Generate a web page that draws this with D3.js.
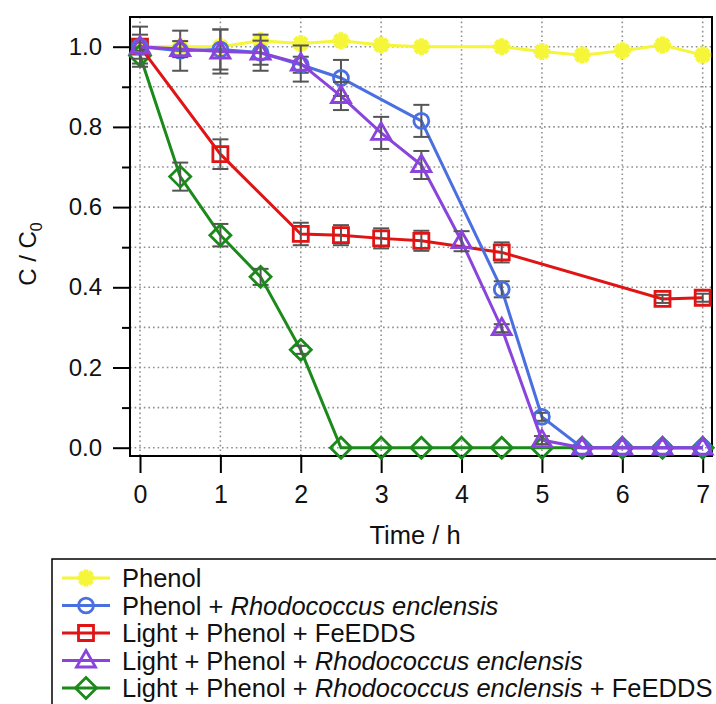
<!DOCTYPE html>
<html>
<head>
<meta charset="utf-8">
<script src="https://cdn.jsdelivr.net/npm/d3@7"></script>
<style>
  body { margin: 0; background: #fff; }
  svg { font-family: "Liberation Sans", Arial, sans-serif; }
</style>
</head>
<body>
<div id="chart"></div>
<script>
// data
var phenolT = [0, 0.5, 1, 1.5, 2, 2.5, 3, 3.5, 4.5, 5, 5.5, 6, 6.5, 7];
var phenolC = [1.0, 1.0, 1.0, 1.015, 1.008, 1.015, 1.004, 1.0, 1.0, 0.988, 0.979, 0.99, 1.004, 0.979];
var phenolE = [0, 0, 0, 0, 0, 0, 0, 0, 0, 0, 0, 0, 0, 0];

var bioT = [0, 0.5, 1, 1.5, 2, 2.5, 3.5, 4.5, 5, 5.5, 6, 6.5, 7];
var bioC = [1.0, 0.99, 0.993, 0.985, 0.955, 0.922, 0.815, 0.395, 0.077, 0, 0, 0, 0];
var bioE = [0.05, 0.05, 0.05, 0.045, 0.02, 0.045, 0.04, 0.02, 0.01, 0, 0, 0, 0];

var fenT = [0, 1, 2, 2.5, 3, 3.5, 4.5, 6.5, 7];
var fenC = [1.0, 0.732, 0.533, 0.53, 0.522, 0.516, 0.487, 0.371, 0.374];
var fenE = [0.01, 0.037, 0.028, 0.025, 0.025, 0.025, 0.025, 0.01, 0.01];

var lightBioT = [0, 0.5, 1, 1.5, 2, 2.5, 3, 3.5, 4, 4.5, 5, 5.5, 6, 6.5, 7];
var lightBioC = [1.0, 0.994, 0.988, 0.985, 0.958, 0.877, 0.785, 0.705, 0.515, 0.298, 0.019, 0, 0, 0, 0];
var lightBioE = [0.03, 0.02, 0.055, 0.03, 0.045, 0.035, 0.04, 0.035, 0.025, 0.01, 0.01, 0, 0, 0, 0];

var allT = [0, 0.5, 1, 1.5, 2, 2.5, 3, 3.5, 4, 4.5, 5, 5.5, 6, 6.5, 7];
var allC = [0.978, 0.676, 0.53, 0.426, 0.244, 0, 0, 0, 0, 0, 0, 0, 0, 0, 0];
var allE = [0.02, 0.035, 0.028, 0.02, 0.01, 0, 0, 0, 0, 0, 0, 0, 0, 0, 0];

var xTicks = [0, 1, 2, 3, 4, 5, 6, 7];
var yMajor = [0, 0.2, 0.4, 0.6, 0.8, 1.0];
var yGrid = [0, 0.1, 0.2, 0.3, 0.4, 0.5, 0.6, 0.7, 0.8, 0.9, 1.0];

var series = [
  { name: ["Phenol"], t: phenolT, c: phenolC, e: phenolE, color: "#f5f53a", shape: "star" },
  { name: ["Light + Phenol + ", "Rhodococcus enclensis", " + FeEDDS"], t: allT, c: allC, e: allE, color: "#1b8a1b", shape: "diamond" },
  { name: ["Light + Phenol + FeEDDS"], t: fenT, c: fenC, e: fenE, color: "#e01414", shape: "square" },
  { name: ["Phenol + ", "Rhodococcus enclensis"], t: bioT, c: bioC, e: bioE, color: "#4a6fe0", shape: "circle" },
  { name: ["Light + Phenol + ", "Rhodococcus enclensis"], t: lightBioT, c: lightBioC, e: lightBioE, color: "#8a44dc", shape: "triangle" }
];
var legendOrder = [0, 3, 2, 4, 1];

var svgWidth = 716;
var svgHeight = 704;
var frame = { left: 130, right: 712, top: 17, bottom: 456 };

var svg = d3.select("#chart")
  .append("svg")
  .attr("width", svgWidth)
  .attr("height", svgHeight);

var x = d3.scaleLinear().domain([0, 7]).range([140, 702.7]);
var y = d3.scaleLinear().domain([0, 1]).range([447.7, 46.7]);

// dotted grid
var grid = svg.append("g")
  .attr("stroke", "#8f8f8f")
  .attr("stroke-width", 1.6)
  .attr("stroke-dasharray", "1.6,3");
grid.selectAll("line.v")
  .data(xTicks)
  .enter()
  .append("line")
  .attr("x1", d => x(d)).attr("x2", d => x(d))
  .attr("y1", frame.top).attr("y2", frame.bottom);
grid.selectAll("line.h")
  .data(yGrid)
  .enter()
  .append("line")
  .attr("y1", d => y(d)).attr("y2", d => y(d))
  .attr("x1", frame.left).attr("x2", frame.right);

// axes
var leftAxis = d3.axisLeft(y)
  .tickValues(yMajor)
  .tickFormat(d3.format(".1f"))
  .tickSize(17)
  .tickSizeOuter(0)
  .tickPadding(11);
var yAxis = svg.append("g")
  .attr("transform", `translate(${frame.left}, 0)`)
  .call(leftAxis);

var minorAxis = d3.axisLeft(y)
  .tickValues([0.1, 0.3, 0.5, 0.7, 0.9])
  .tickFormat("")
  .tickSize(8)
  .tickSizeOuter(0);
var yMinor = svg.append("g")
  .attr("transform", `translate(${frame.left}, 0)`)
  .call(minorAxis);

var bottomAxis = d3.axisBottom(x)
  .tickValues(xTicks)
  .tickFormat(d3.format("d"))
  .tickSize(17)
  .tickSizeOuter(0)
  .tickPadding(12);
var xAxis = svg.append("g")
  .attr("transform", `translate(0, ${frame.bottom})`)
  .call(bottomAxis);

[yAxis, yMinor, xAxis].forEach(function(g) {
  g.select(".domain").remove();
  g.selectAll("line").attr("stroke", "#000").attr("stroke-width", 2);
  g.selectAll("text").attr("font-size", "24px").attr("fill", "#111")
    .attr("font-family", "'Liberation Sans', Arial, sans-serif");
});
xAxis.selectAll("text").attr("font-size", "25px");

// frame
svg.append("rect")
  .attr("x", frame.left).attr("y", frame.top)
  .attr("width", frame.right - frame.left)
  .attr("height", frame.bottom - frame.top)
  .attr("fill", "none")
  .attr("stroke", "#000")
  .attr("stroke-width", 2);

// axis titles
svg.append("text")
  .attr("x", 415).attr("y", 544)
  .attr("text-anchor", "middle")
  .attr("font-size", "25.5px")
  .attr("fill", "#111")
  .text("Time / h");

var ylab = svg.append("text")
  .attr("transform", "translate(36, 254) rotate(-90)")
  .attr("text-anchor", "middle")
  .attr("font-size", "24px")
  .attr("fill", "#111");
ylab.append("tspan").text("C / C");
ylab.append("tspan").attr("font-size", "16px").attr("dy", 6).text("0");

// marker shapes
function markerPath(shape) {
  if (shape === "circle") return d3.symbol().type(d3.symbolCircle).size(175)();
  if (shape === "square") return "M-7.5,-7.5H7.5V7.5H-7.5Z";
  if (shape === "triangle") return "M0,-10L9.5,6.5L-9.5,6.5Z";
  if (shape === "diamond") return "M0,-10.5L10.5,0L0,10.5L-10.5,0Z";
  // 8-arm asterisk
  var p = "";
  for (var i = 0; i < 4; i++) {
    var a = i * Math.PI / 4;
    var dx = 8.5 * Math.cos(a), dy = 8.5 * Math.sin(a);
    p += `M${-dx},${-dy}L${dx},${dy}`;
  }
  return p;
}

var plot = svg.append("g");

series.forEach(function(s) {
  var pts = s.t.map((t, i) => ({ t: t, c: s.c[i], e: s.e[i] }));
  var g = plot.append("g");

  g.append("path")
    .datum(pts)
    .attr("fill", "none")
    .attr("stroke", s.color)
    .attr("stroke-width", 3)
    .attr("d", d3.line().x(d => x(d.t)).y(d => y(d.c)));

  // error bars
  var eb = g.selectAll("g.err")
    .data(pts.filter(d => d.e > 0))
    .enter()
    .append("g")
    .attr("stroke", "#555")
    .attr("stroke-width", 2);
  eb.append("line")
    .attr("x1", d => x(d.t)).attr("x2", d => x(d.t))
    .attr("y1", d => y(d.c + d.e)).attr("y2", d => y(d.c - d.e));
  eb.append("line")
    .attr("x1", d => x(d.t) - 8).attr("x2", d => x(d.t) + 8)
    .attr("y1", d => y(d.c + d.e)).attr("y2", d => y(d.c + d.e));
  eb.append("line")
    .attr("x1", d => x(d.t) - 8).attr("x2", d => x(d.t) + 8)
    .attr("y1", d => y(d.c - d.e)).attr("y2", d => y(d.c - d.e));

  g.selectAll("path.mark")
    .data(pts)
    .enter()
    .append("path")
    .attr("transform", d => `translate(${x(d.t)}, ${y(d.c)})`)
    .attr("d", markerPath(s.shape))
    .attr("fill", "none")
    .attr("stroke", s.color)
    .attr("stroke-width", s.shape === "star" ? 5 : 2.8);
});

// legend
var legend = svg.append("g");
legend.append("rect")
  .attr("x", 52).attr("y", 559)
  .attr("width", 680).attr("height", 160)
  .attr("fill", "#fff")
  .attr("stroke", "#000")
  .attr("stroke-width", 1.5);

legendOrder.forEach(function(idx, row) {
  var s = series[idx];
  var cy = 578 + row * 27.5;
  legend.append("line")
    .attr("x1", 62).attr("x2", 110)
    .attr("y1", cy).attr("y2", cy)
    .attr("stroke", s.color)
    .attr("stroke-width", 3);
  legend.append("path")
    .attr("transform", `translate(86, ${cy})`)
    .attr("d", markerPath(s.shape))
    .attr("fill", "none")
    .attr("stroke", s.color)
    .attr("stroke-width", s.shape === "star" ? 5 : 2.8);
  var txt = legend.append("text")
    .attr("x", 122).attr("y", cy + 9)
    .attr("font-size", "25.5px")
    .attr("fill", "#111");
  s.name.forEach(function(part, k) {
    txt.append("tspan")
      .attr("font-style", k === 1 ? "italic" : "normal")
      .text(part);
  });
});
</script>
</body>
</html>
